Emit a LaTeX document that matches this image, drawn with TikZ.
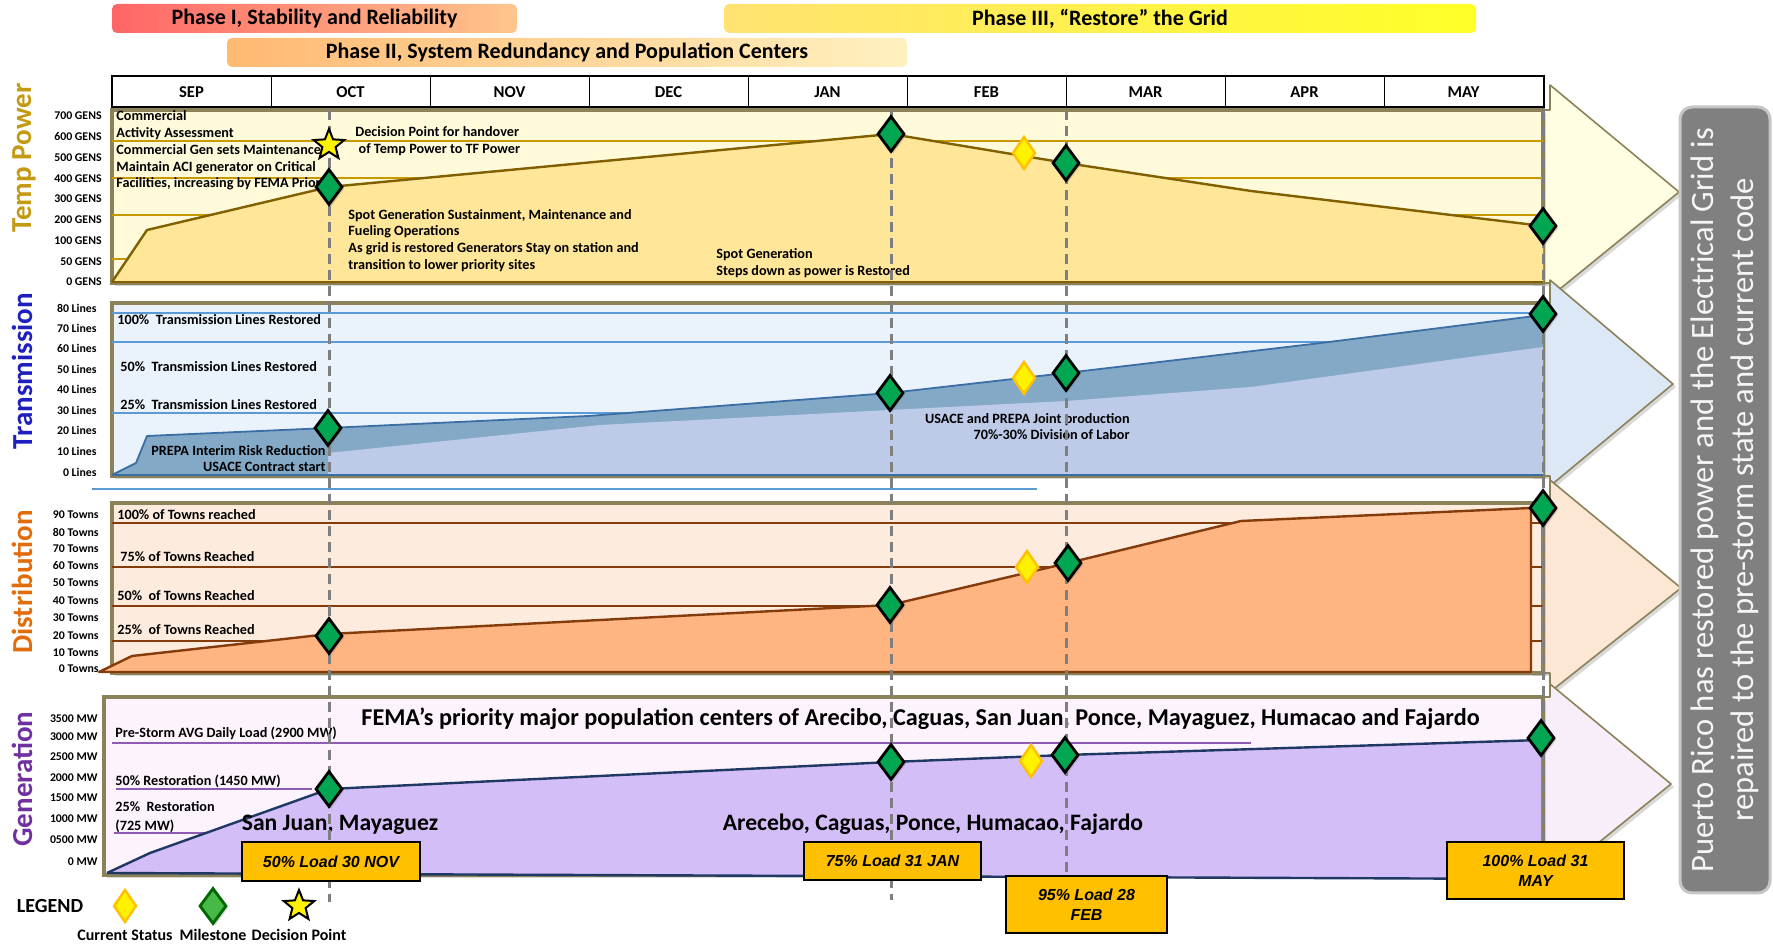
\documentclass[tikz,border=0pt]{standalone}
\usepackage{fontspec}
\setmainfont{Carlito}
\newfontfamily\arialfont{Liberation Sans}
\usepackage{xcolor}
\usetikzlibrary{positioning, shapes.geometric, shadows}

\definecolor{panelEdge}{HTML}{8C8259}
\definecolor{dashGray}{HTML}{7F7F7F}
\definecolor{tpTitle}{HTML}{C39A12}
\definecolor{tpBg}{HTML}{FFFBDA}
\definecolor{tpHead}{HTML}{FFFDE2}
\definecolor{tpFill}{HTML}{FFE699}
\definecolor{tpLine}{HTML}{806000}
\definecolor{tpGrid}{HTML}{C99A00}
\definecolor{trTitle}{HTML}{1F1FC0}
\definecolor{trBg}{HTML}{EAF2FC}
\definecolor{trHead}{HTML}{DCE8F6}
\definecolor{trDark}{HTML}{84A9C7}
\definecolor{trLight}{HTML}{BDCBE9}
\definecolor{trLine}{HTML}{3A6EA5}
\definecolor{trGrid}{HTML}{5B9BD5}
\definecolor{dsTitle}{HTML}{E36C0A}
\definecolor{dsBg}{HTML}{FDEBDD}
\definecolor{dsHead}{HTML}{FCE6D4}
\definecolor{dsFill}{HTML}{FFB582}
\definecolor{dsLine}{HTML}{843C0C}
\definecolor{gnTitle}{HTML}{7030A0}
\definecolor{gnBg}{HTML}{FCF3FD}
\definecolor{gnHead}{HTML}{F8EEFA}
\definecolor{gnFill}{HTML}{D3BEF8}
\definecolor{gnLine}{HTML}{1F3864}
\definecolor{gnGrid}{HTML}{8E5CB5}
\definecolor{loadGold}{HTML}{FFC000}
\definecolor{msGreen}{HTML}{00A651}
\definecolor{boxGray}{HTML}{808080}

\tikzset{
    phasebar/.style={rounded corners=2.5pt, minimum height=14.5pt, inner sep=0pt, font=\bfseries\fontsize{11}{12}\selectfont},
    month/.style={draw=black, line width=0.5pt, minimum width=79.5pt, minimum height=15pt, inner sep=0pt, fill=white, font=\bfseries\fontsize{8.3}{9}\selectfont},
    panel/.style={draw=panelEdge, line width=1.6pt, drop shadow={opacity=0.3, shadow xshift=1.5pt, shadow yshift=-1.5pt}},
    blockhead/.style={draw=panelEdge, line width=0.8pt, line join=round, drop shadow={opacity=0.3, shadow xshift=1.5pt, shadow yshift=-1.5pt}},
    sidetitle/.style={rotate=90, inner sep=0pt, font=\bfseries\fontsize{14.5}{16}\selectfont},
    axislabel/.style={anchor=east, inner sep=0pt, font=\bfseries\fontsize{5.9}{6}\selectfont},
    panelnote/.style={anchor=west, inner sep=0pt, align=left, font=\bfseries\fontsize{7.1}{8.4}\selectfont},
    gridline/.style={line width=0.6pt},
    trendline/.style={line width=1.2pt, line join=round},
    dashmark/.style={draw=dashGray, line width=1.5pt, dash pattern=on 5pt off 3pt},
    milestone/.style={diamond, draw=black, line width=1.4pt, fill=msGreen, minimum width=13.5pt, minimum height=18pt, inner sep=0pt, drop shadow={opacity=0.35, shadow xshift=1pt, shadow yshift=-1pt}},
    current/.style={diamond, draw=loadGold, line width=1.2pt, fill=yellow, minimum width=11.5pt, minimum height=16.5pt, inner sep=0pt},
    decision/.style={star, star points=5, star point ratio=2.3, draw=black, line width=1pt, fill=yellow, minimum size=16pt, inner sep=0pt},
    loadbox/.style={draw=black, line width=0.8pt, fill=loadGold, align=center, inner sep=0pt, font=\arialfont\bfseries\itshape\fontsize{8}{10}\selectfont},
    city/.style={inner sep=0pt, font=\bfseries\fontsize{11.8}{13}\selectfont},
    legendtext/.style={inner sep=0pt, font=\bfseries\fontsize{8}{9}\selectfont}
}

\begin{document}
\begin{tikzpicture}[x=0.5pt, y=-0.5pt]
    \useasboundingbox (0,0) rectangle (1773,945);

    % Phases
    \node[phasebar, left color=red!60!white, right color=orange!45!white, minimum width=202.5pt] (phaseI) at (314.5,18.5) {Phase I, Stability and Reliability};
    \node[phasebar, left color=yellow!60!orange!55!white, right color=yellow!85!white, minimum width=376pt] (phaseIII) at (1100,18.5) {Phase III, “Restore” the Grid};
    \node[phasebar, left color=orange!55!white, right color=yellow!55!orange!25!white, minimum width=340pt] (phaseII) at (567,52.5) {Phase II, System Redundancy and Population Centers};

    % Months
    \foreach \m [count=\i] in {SEP,OCT,NOV,DEC,JAN,FEB,MAR,APR,MAY}
        \node[month] (mon\i) at ({112+159*(\i-0.5)},92) {\m};
    \draw[line width=1pt] (mon1.north west) rectangle (mon9.south east);

    % Temp Power
    \draw[blockhead, fill=tpHead] (1530,110) -- (1550,110) -- (1550,85) -- (1679,192) -- (1550,297) -- (1550,283) -- (1530,283) -- cycle;
    \draw[panel, fill=tpBg] (112,110) rectangle (1543,283);
    \foreach \gy in {141,178,215,259}
        \draw[gridline, tpGrid] (112,\gy) -- (1543,\gy);
    \fill[tpFill] (112,282) -- (147,230) -- (329,187) -- (891,134) -- (1066,163) -- (1251,191) -- (1543,226) -- (1543,282) -- cycle;
    \draw[trendline, tpLine] (112,282) -- (147,230) -- (329,187) -- (891,134) -- (1066,163) -- (1251,191) -- (1543,226);
    \draw[line width=1.2pt, tpLine] (112,282) -- (1543,282);

    % Transmission
    \draw[blockhead, fill=trHead] (1530,303) -- (1550,303) -- (1550,280) -- (1673,384) -- (1550,486) -- (1550,476) -- (1530,476) -- cycle;
    \draw[panel, fill=trBg] (112,303) rectangle (1543,476);
    \foreach \gy in {313,342,413}
        \draw[gridline, trGrid] (112,\gy) -- (1543,\gy);
    \fill[trDark] (112,475) -- (136,463) -- (147,436) -- (328,428) -- (588,416) -- (890,393) -- (1066,373) -- (1321,343) -- (1543,315) -- (1543,475) -- cycle;
    \fill[trLight] (328,475) -- (328,453) -- (600,425) -- (890,410) -- (1066,401) -- (1251,387) -- (1543,347) -- (1543,475) -- cycle;
    \draw[trendline, line width=0.9pt, trLine] (112,475) -- (136,463) -- (147,436) -- (328,428) -- (588,416) -- (890,393) -- (1066,373) -- (1321,343) -- (1543,315);
    \draw[line width=1.2pt, trLine] (112,475) -- (1543,475);
    \draw[gridline, trGrid] (92,489) -- (1037,489);

    % Distribution
    \draw[blockhead, fill=dsHead] (1530,503) -- (1550,503) -- (1550,480) -- (1681,588) -- (1550,692) -- (1550,673) -- (1530,673) -- cycle;
    \draw[panel, fill=dsBg] (112,503) rectangle (1543,673);
    \foreach \gy in {523,567,606,641}
        \draw[gridline, dsLine] (112,\gy) -- (1543,\gy);
    \fill[dsFill] (99,672) -- (132,656) -- (329,634) -- (890,605) -- (1068,563) -- (1241,521) -- (1531,508) -- (1531,672) -- cycle;
    \draw[trendline, dsLine] (99,672) -- (132,656) -- (329,634) -- (890,605) -- (1068,563) -- (1241,521) -- (1531,508) -- (1531,672) -- cycle;

    % Generation
    \draw[blockhead, fill=gnHead] (1530,697) -- (1550,697) -- (1550,684) -- (1671,784) -- (1550,882) -- (1550,875) -- (1530,875) -- cycle;
    \draw[panel, fill=gnBg] (104,697) rectangle (1543,875);
    \draw[gridline, gnGrid] (112,743) -- (1251,743);
    \draw[gridline, gnGrid] (116,789) -- (312,789);
    \draw[gridline, gnGrid] (114,833) -- (205,833);
    \fill[gnFill] (107,873) -- (150,853) -- (329,789) -- (891,762) -- (1065,755) -- (1541,740) -- (1541,879) -- cycle;
    \draw[trendline, gnLine] (107,873) -- (150,853) -- (329,789) -- (891,762) -- (1065,755) -- (1541,740);
    \draw[line width=1.2pt, gnLine] (107,873) -- (1541,879);

    % Side titles
    \node[sidetitle, text=tpTitle] (ttlTemp) at (24,158) {Temp Power};
    \node[sidetitle, text=trTitle] (ttlTrans) at (22,371) {Transmission};
    \node[sidetitle, text=dsTitle] (ttlDist) at (22,582) {Distribution};
    \node[sidetitle, text=gnTitle] (ttlGen) at (22,779) {Generation};

    % Axis labels
    \foreach \v/\y in {700/116,600/137,500/158,400/179,300/199,200/220,100/241,50/262,0/282}
        \node[axislabel] (axT\v) at (102,\y) {\v\ GENS};
    \foreach \v/\y in {80/308,70/328,60/348,50/369,40/389,30/410,20/430,10/451,0/472}
        \node[axislabel] (axL\v) at (97,\y) {\v\ Lines};
    \foreach \v/\y in {90/515,80/532,70/549,60/566,50/583,40/601,30/618,20/636,10/653,0/669}
        \node[axislabel] (axD\v) at (99,\y) {\v\ Towns};
    \foreach \v/\y in {3500/719,3000/737,2500/757,2000/778,1500/798,1000/819,0500/840,0/862}
        \node[axislabel] (axG\v) at (98,\y) {\v\ MW};

    % Panel notes
    \node[panelnote] (tpActivity) at (116,150.5) {Commercial\\Activity Assessment\\Commercial Gen sets Maintenance\\Maintain ACI generator on Critical\\Facilities, increasing by FEMA Priori};
    \node[panelnote] (tpHandover) at (355,141.5) {Decision Point for handover\\\ of Temp Power to TF Power};
    \node[panelnote] (tpSpot) at (348,240.5) {Spot Generation Sustainment, Maintenance and\\Fueling Operations\\As grid is restored Generators Stay on station and\\transition to lower priority sites};
    \node[panelnote] (tpSteps) at (716,263.5) {Spot Generation\\Steps down as power is Restored};

    \node[panelnote] (tr100) at (117,320) {100\%~ Transmission Lines Restored};
    \node[panelnote] (tr50) at (120,367) {50\%~ Transmission Lines Restored};
    \node[panelnote] (tr25) at (120,405) {25\%~ Transmission Lines Restored};
    \node[panelnote, anchor=east, align=right] (trPrepa) at (326,458.5) {PREPA Interim Risk Reduction\\USACE Contract start};
    \node[panelnote, anchor=east, align=right] (trJoint) at (1130,426.5) {USACE and PREPA Joint production\\70\%-30\% Division of Labor};

    \node[panelnote] (ds100) at (117,515) {100\% of Towns reached};
    \node[panelnote] (ds75) at (120,557) {75\% of Towns Reached};
    \node[panelnote] (ds50) at (117,596) {50\%~ of Towns Reached};
    \node[panelnote] (ds25) at (117,630) {25\%~ of Towns Reached};

    \node[panelnote] (gnPre) at (115,733) {Pre-Storm AVG Daily Load (2900 MW)};
    \node[panelnote] (gn50) at (115,781) {50\% Restoration (1450 MW)};
    \node[panelnote, font=\bfseries\fontsize{7.1}{9.5}\selectfont] (gn25) at (115,817.5) {25\%~ Restoration\\(725 MW)};
    \node[city, anchor=west, font=\bfseries\fontsize{12.1}{13}\selectfont] (gnFema) at (361,719) {FEMA’s priority major population centers of Arecibo, Caguas, San Juan, Ponce, Mayaguez, Humacao and Fajardo};
    \node[city] (gnWest) at (340,825) {San Juan, Mayaguez};
    \node[city] (gnEast) at (933,824) {Arecebo, Caguas, Ponce, Humacao, Fajardo};

    % Milestone columns
    \draw[dashmark] (329,110) -- (329,902);
    \draw[dashmark] (891,110) -- (891,900);
    \draw[dashmark] (1066,110) -- (1066,880);
    \draw[dashmark] (1543,110) -- (1543,895);

    % Markers
    \foreach \px/\py [count=\k] in {329/187,891/134,1066/163,1543/226,328/428,890/393,1066/373,1543/314,329/636,890/605,1068/563,1543/508,329/789,891/762,1065/755,1541/738}
        \node[milestone] (ms\k) at (\px,\py) {};
    \foreach \px/\py [count=\k] in {1024/153,1024/378,1027/567,1031/761}
        \node[current] (cs\k) at (\px,\py) {};
    \node[decision] (dp1) at (329,145) {};

    % Load targets
    \node[loadbox, minimum width=89pt, minimum height=19.5pt] (loadNov) at (331,861.5) {50\% Load 30 NOV};
    \node[loadbox, minimum width=88.5pt, minimum height=19pt] (loadJan) at (892.5,861) {75\% Load 31 JAN};
    \node[loadbox, minimum width=80.5pt, minimum height=28.5pt] (loadFeb) at (1086.5,904.5) {95\% Load 28\\FEB};
    \node[loadbox, minimum width=88.5pt, minimum height=28.5pt] (loadMay) at (1535.5,870.5) {100\% Load 31\\MAY};

    % End state
    \node[rotate=90, draw=gray!45, line width=1.5pt, fill=boxGray, rounded corners=6pt, minimum width=393pt, minimum height=45pt, inner sep=0pt, align=center, text=white!92!gray, font=\fontsize{16.3}{20}\selectfont] (endState) at (1725,500) {Puerto Rico has restored power and the Electrical Grid is\\repaired to the pre-storm state and current code};

    % Legend
    \node[inner sep=0pt, font=\bfseries\fontsize{10}{11}\selectfont] (lgTitle) at (50,906) {LEGEND};
    \node[current] (lgCurrent) at (125,906) {};
    \node[milestone, fill=green!45!gray, draw=green!40!black, drop shadow={opacity=0}] (lgMilestone) at (213,906) {};
    \node[decision] (lgDecision) at (299,906) {};
    \node[legendtext] (lgCurrentTxt) at (125,935) {Current Status};
    \node[legendtext] (lgMilestoneTxt) at (213,935) {Milestone};
    \node[legendtext] (lgDecisionTxt) at (299,935) {Decision Point};
\end{tikzpicture}
\end{document}
